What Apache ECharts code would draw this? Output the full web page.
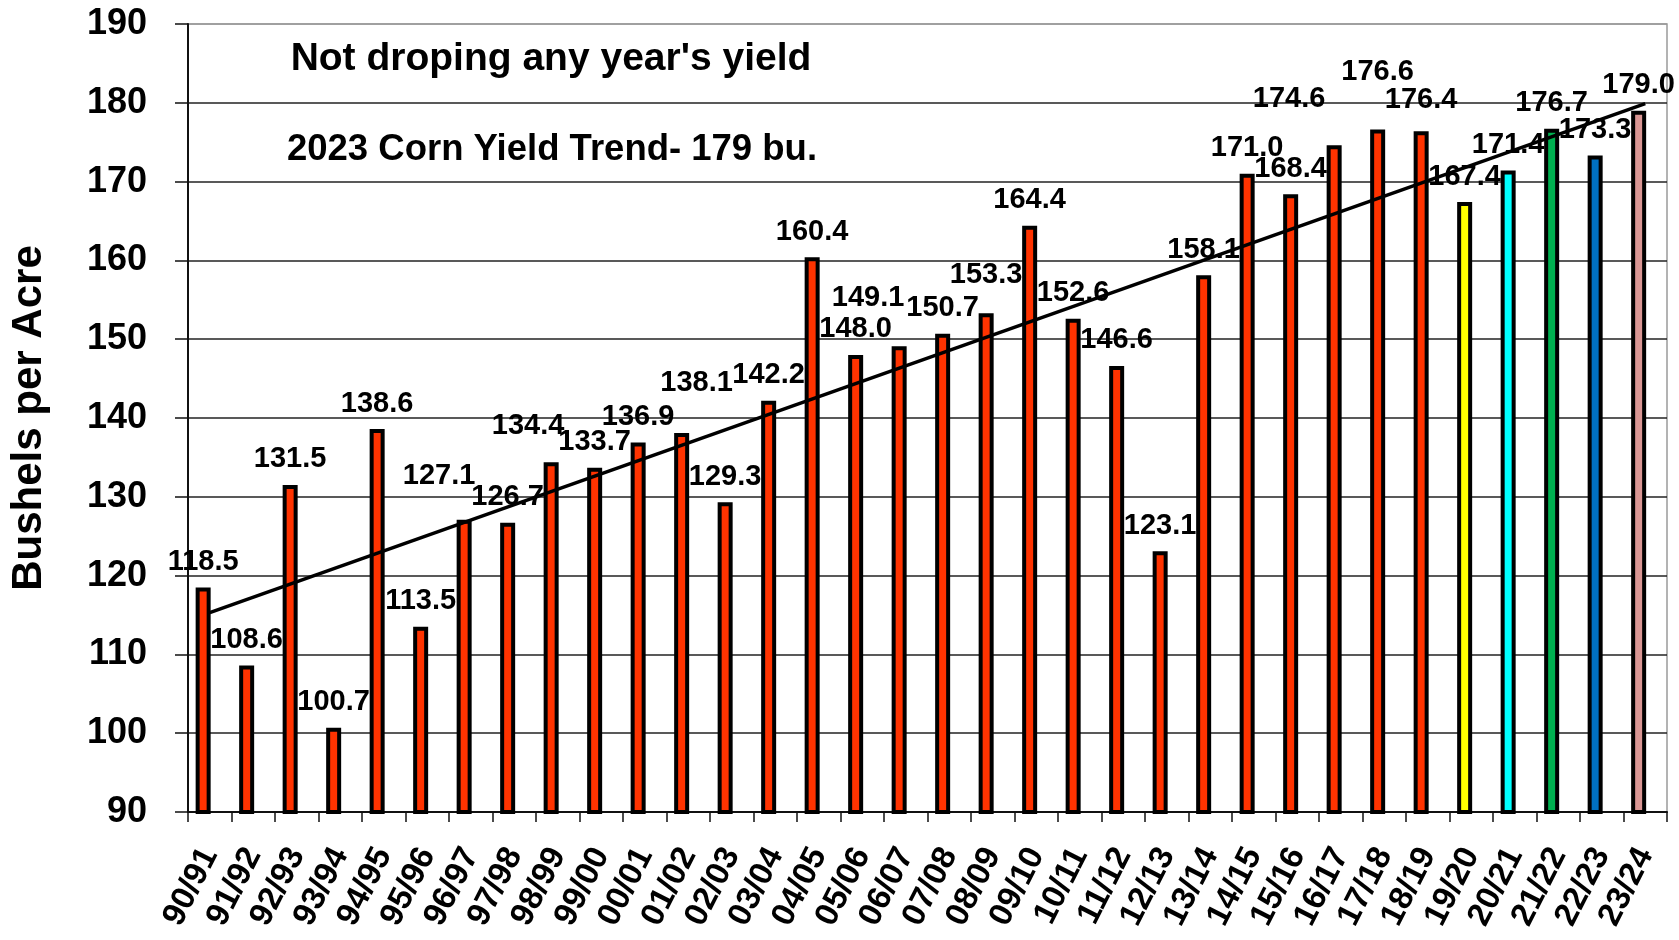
<!DOCTYPE html>
<html>
<head>
<meta charset="utf-8">
<title>Corn yield trend</title>
<script src="https://cdn.jsdelivr.net/npm/echarts@6/dist/echarts.min.js"></script>
<style>
  html, body { margin: 0; padding: 0; background: #fff; }
  #chart { width: 1679px; height: 940px; }
</style>
</head>
<body>
<div id="chart"></div>
<script>
const seasons = ['90/91', '91/92', '92/93', '93/94', '94/95', '95/96', '96/97', '97/98', '98/99', '99/00',
  '00/01', '01/02', '02/03', '03/04', '04/05', '05/06', '06/07', '07/08', '08/09', '09/10',
  '10/11', '11/12', '12/13', '13/14', '14/15', '15/16', '16/17', '17/18', '18/19', '19/20',
  '20/21', '21/22', '22/23', '23/24']
const yields = [118.5, 108.6, 131.5, 100.7, 138.6, 113.5, 127.1, 126.7, 134.4, 133.7,
  136.9, 138.1, 129.3, 142.2, 160.4, 148.0, 149.1, 150.7, 153.3, 164.4,
  152.6, 146.6, 123.1, 158.1, 171.0, 168.4, 174.6, 176.6, 176.4, 167.4,
  171.4, 176.7, 173.3, 179.0]
// trend line end points (first and last season)
const trendStart = 115.3
const trendEnd = 179.9
const yTicks = { min: 90, max: 190, step: 10 }

const FONT = 'Arial, "Liberation Sans", sans-serif'
const RED = '#FF3300'
// last five seasons have their own colours
const seasonColors = { 29: '#FFFF00', 30: '#00FFFF', 31: '#00B050', 32: '#0070C0', 33: '#D99694' }
// hand-placed labels in the original, [dx, dy] in px
const labelNudges = {
  6: [-25, -18], 8: [-23, -11], 11: [15, -24], 16: [-31, -23],
  18: [0, -13], 26: [-45, -21], 27: [0, -32], 28: [0, -6],
}

const barData = yields.map((v, i) => ({
  value: v,
  itemStyle: { color: seasonColors[i] || RED },
  label: labelNudges[i] ? { offset: labelNudges[i] } : undefined,
}))
const trendData = yields.map((_, i) => i === 0 ? trendStart : (i === yields.length - 1 ? trendEnd : null))

// top grid line is grey (plot border), the rest near black
const splitColors = []
for (let v = yTicks.min; v <= yTicks.max; v += yTicks.step) splitColors.push(v === yTicks.max ? '#9a9a9a' : '#222')

const chart = echarts.init(document.getElementById('chart'))
chart.setOption({
  animation: false,
  backgroundColor: '#fff',
  textStyle: { fontFamily: FONT },
  grid: {
    left: 188, right: 12, top: 24, bottom: 128,
    show: true, borderColor: '#9a9a9a', borderWidth: 1.5,
  },
  graphic: [
    {
      type: 'text', x: 551, y: 59,
      style: { text: "Not droping any year's yield", font: 'bold 39px ' + FONT, fill: '#000', align: 'center', verticalAlign: 'middle' },
    },
    {
      type: 'text', x: 552, y: 150,
      style: { text: '2023 Corn Yield Trend- 179 bu.', font: 'bold 36.5px ' + FONT, fill: '#000', align: 'center', verticalAlign: 'middle' },
    },
  ],
  xAxis: {
    type: 'category',
    data: seasons,
    axisLine: { lineStyle: { color: '#111', width: 2 } },
    axisTick: { show: true, length: 10, lineStyle: { color: '#111', width: 1.5 } },
    axisLabel: {
      interval: 0, rotate: 63, margin: 38,
      color: '#000', fontSize: 33, fontWeight: 'bold', fontFamily: FONT,
    },
    splitLine: { show: false },
  },
  yAxis: {
    type: 'value',
    min: yTicks.min, max: yTicks.max, interval: yTicks.step,
    name: 'Bushels per Acre',
    nameLocation: 'middle',
    nameGap: 138,
    nameRotate: 90,
    nameTextStyle: { color: '#000', fontSize: 42, fontWeight: 'bold', fontFamily: FONT },
    axisLine: { show: true, lineStyle: { color: '#111', width: 2 } },
    axisTick: { show: true, length: 13, lineStyle: { color: '#111', width: 1.5 } },
    axisLabel: { margin: 41, color: '#000', fontSize: 36, fontWeight: 'bold', fontFamily: FONT },
    splitLine: { lineStyle: { color: splitColors, width: 1.5 } },
  },
  series: [
    {
      type: 'bar',
      data: barData,
      barWidth: 15,
      barGap: '-12%',
      itemStyle: { borderColor: '#000', borderWidth: 4 },
      label: {
        show: true, position: 'top', distance: 11,
        color: '#000', fontSize: 29, fontWeight: 'bold', fontFamily: FONT,
        formatter: p => p.value.toFixed(1),
      },
      z: 2,
    },
    {
      // empty second column, keeps bars left of the category centre
      type: 'bar',
      data: [],
      barWidth: 15,
    },
    {
      type: 'line',
      data: trendData,
      connectNulls: true,
      symbol: 'none',
      lineStyle: { color: '#000', width: 3.5 },
      silent: true,
      z: 3,
    },
  ],
})
</script>
</body>
</html>
